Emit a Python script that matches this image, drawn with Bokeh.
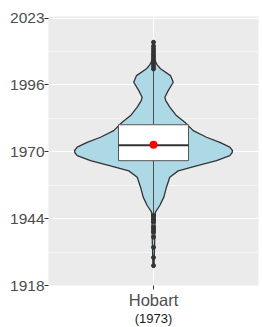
from bokeh.plotting import figure
from bokeh.models import Range1d, FixedTicker
from bokeh.embed import file_html
from bokeh.resources import INLINE

# ---- data ----
category = "Hobart"
category_note = "(1973)"
category_pos = 1

# violin outline: years and half-widths (in category units)
violin_years = [2013.8, 2010.2, 2006.3, 2004.7, 2003.1, 2000.4, 1997.8, 1994.5, 1991.9, 1990.6,
                1988.0, 1984.7, 1982.1, 1978.8, 1976.2, 1974.2, 1972.3, 1971.0, 1970.2, 1969.0,
                1967.0, 1965.0, 1963.0, 1960.5, 1956.6, 1952.7, 1949.4, 1946.8, 1943.5, 1935.7,
                1925.8]
violin_half = [0.003, 0.006, 0.009, 0.020, 0.040, 0.097, 0.113, 0.084, 0.065, 0.070,
               0.093, 0.131, 0.179, 0.227, 0.303, 0.379, 0.436, 0.451, 0.450, 0.436,
               0.360, 0.246, 0.141, 0.093, 0.074, 0.059, 0.036, 0.011, 0.009, 0.007,
               0.003]

q1 = 1967.0
median = 1973.1
q3 = 1981.1
mean = 1973.3
whisker_low = 1946.2
whisker_high = 2002.3
outliers = [2003, 2004, 2005, 2006, 2007, 2008, 2009, 2010, 2011, 2012, 2013.5,
            1945.5, 1944, 1943, 1941, 1940, 1939, 1937, 1933, 1929, 1925.8]

y_tick_values = [1918, 1944.25, 1970.5, 1996.75, 2023]
y_tick_labels = ["1918", "1944", "1970", "1996", "2023"]
y_minor_values = [1931.125, 1957.375, 1983.625, 2009.875]

FONT = "Liberation Sans"

# ---- figure ----
p = figure(frame_width=210, frame_height=269, output_backend="svg", toolbar_location=None,
           x_range=Range1d(0.4, 1.6), y_range=Range1d(1918, 2023.6),
           min_border_left=48, min_border_right=4, min_border_top=16, min_border_bottom=10)
p.background_fill_color = "#EBEBEB"
p.border_fill_color = "white"
p.outline_line_color = None

# grids
p.ygrid.ticker = FixedTicker(ticks=y_tick_values, minor_ticks=y_minor_values)
p.ygrid.grid_line_color = "white"
p.ygrid.grid_line_width = 1.1
p.ygrid.minor_grid_line_color = "white"
p.ygrid.minor_grid_line_width = 0.5
p.xgrid.ticker = FixedTicker(ticks=[category_pos])
p.xgrid.grid_line_color = "white"
p.xgrid.grid_line_width = 1.1

# y axis
p.yaxis.ticker = FixedTicker(ticks=y_tick_values, minor_ticks=[])
p.yaxis.major_label_overrides = {v: l for v, l in zip(y_tick_values, y_tick_labels)}
p.yaxis.axis_line_color = None
p.yaxis.major_tick_line_color = "#333333"
p.yaxis.major_tick_in = 0
p.yaxis.major_tick_out = 4
p.yaxis.minor_tick_line_color = None
p.yaxis.major_label_standoff = 0
p.yaxis.major_label_text_font = FONT
p.yaxis.major_label_text_font_size = "15.5px"
p.yaxis.major_label_text_color = "#4D4D4D"

# x axis
p.xaxis.ticker = FixedTicker(ticks=[category_pos], minor_ticks=[])
p.xaxis.major_label_overrides = {category_pos: category}
p.xaxis.axis_line_color = None
p.xaxis.major_tick_line_color = "#333333"
p.xaxis.major_tick_in = 0
p.xaxis.major_tick_out = 4
p.xaxis.minor_tick_line_color = None
p.xaxis.major_label_standoff = 1
p.xaxis.major_label_text_font = FONT
p.xaxis.major_label_text_font_size = "16.5px"
p.xaxis.major_label_text_color = "#4D4D4D"
p.xaxis.axis_label = category_note
p.xaxis.axis_label_text_font = FONT
p.xaxis.axis_label_text_font_style = "normal"
p.xaxis.axis_label_text_font_size = "13px"
p.xaxis.axis_label_text_color = "#1A1A1A"
p.xaxis.axis_label_standoff = -1

# violin
vx = [category_pos - w for w in violin_half] + [category_pos + w for w in violin_half[::-1]]
vy = violin_years + violin_years[::-1]
p.patch(vx, vy, fill_color="#ADD8E6", line_color="#333333", line_width=1.3)

# whiskers
p.segment(x0=[category_pos, category_pos], y0=[q3, q1],
          x1=[category_pos, category_pos], y1=[whisker_high, whisker_low],
          line_color="#4D4D4D", line_width=1)

# outliers
p.scatter(x=[category_pos] * len(outliers), y=outliers, size=4,
          fill_color="#333333", line_color="#333333")

# box
p.quad(left=[category_pos - 0.2], right=[category_pos + 0.2], bottom=[q1], top=[q3],
       fill_color="white", line_color="#555555", line_width=1)
p.segment(x0=[category_pos - 0.2], y0=[median], x1=[category_pos + 0.2], y1=[median],
          line_color="#333333", line_width=2)

# mean
p.scatter(x=[category_pos], y=[mean], size=8, fill_color="red", line_color=None)

open("out.html", "w").write(file_html(p, INLINE))
